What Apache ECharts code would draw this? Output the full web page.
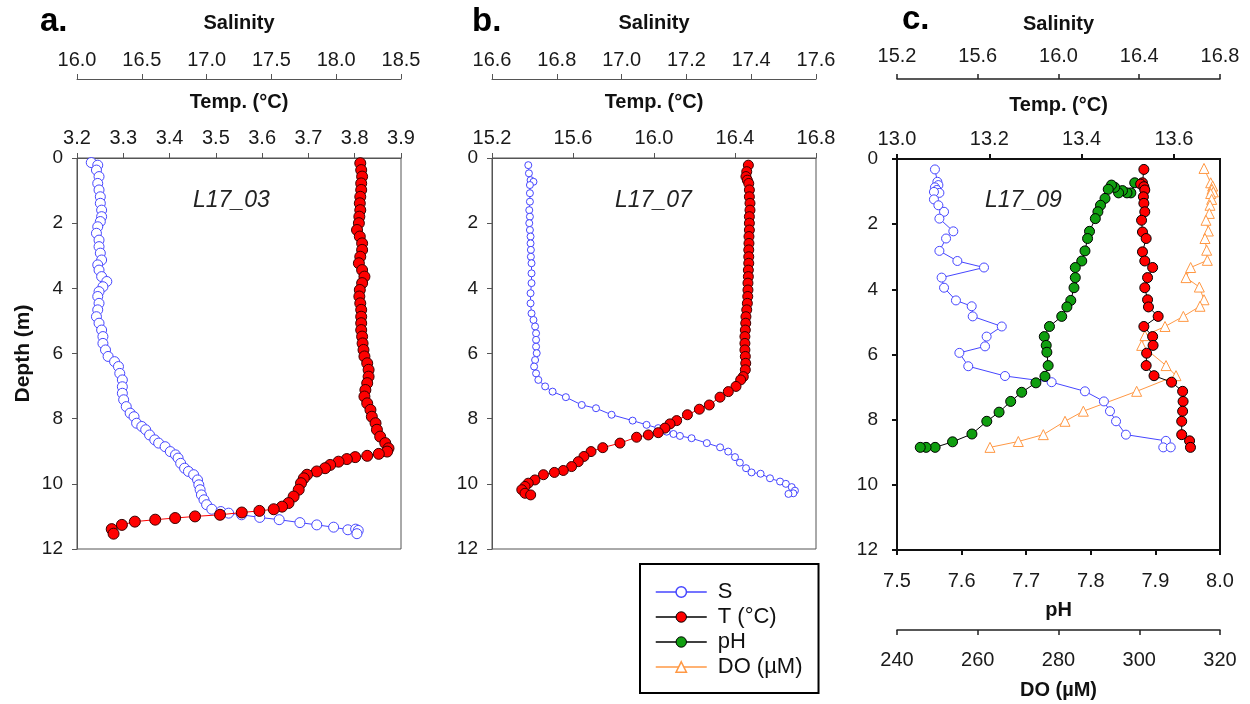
<!DOCTYPE html>
<html>
<head>
<meta charset="utf-8">
<script src="https://cdn.jsdelivr.net/npm/echarts@6/dist/echarts.min.js"></script>
<style>
  html, body { margin: 0; padding: 0; background: #fff; }
  #chart { width: 1250px; height: 704px; }
</style>
</head>
<body>
<div id="chart"></div>
<script>
// ---------- Station L17_03 ----------
const a_S_depth = [0.14,0.22,0.37,0.57,0.78,0.98,1.19,1.39,1.60,1.80,1.95,2.11,2.31,2.52,2.72,2.92,3.13,3.28,3.44,3.64,3.79,3.95,4.10,4.25,4.46,4.66,4.87,5.07,5.28,5.48,5.69,5.89,6.09,6.25,6.40,6.61,6.81,7.02,7.22,7.42,7.63,7.83,7.94,8.14,8.24,8.34,8.50,8.65,8.75,8.86,9.01,9.11,9.21,9.37,9.52,9.62,9.72,9.88,10.03,10.18,10.34,10.49,10.64,10.78,10.85,10.90,10.95,11.03,11.10,11.19,11.26,11.33,11.41,11.39,11.43,11.53];
const a_S = [16.11,16.16,16.15,16.17,16.16,16.17,16.18,16.18,16.19,16.19,16.18,16.16,16.15,16.17,16.17,16.18,16.19,16.16,16.17,16.19,16.23,16.20,16.17,16.16,16.17,16.16,16.15,16.17,16.19,16.20,16.20,16.22,16.24,16.29,16.32,16.33,16.35,16.35,16.35,16.36,16.38,16.41,16.44,16.46,16.50,16.53,16.56,16.60,16.63,16.68,16.72,16.76,16.78,16.80,16.83,16.86,16.90,16.93,16.94,16.95,16.96,16.98,17.00,17.04,17.11,17.17,17.27,17.41,17.56,17.72,17.85,17.98,18.09,18.15,18.17,18.16];
const a_T_depth = [0.16,0.37,0.57,0.78,0.98,1.19,1.39,1.60,1.80,2.00,2.21,2.41,2.62,2.82,3.03,3.23,3.44,3.64,3.84,4.05,4.25,4.46,4.66,4.87,5.07,5.28,5.48,5.69,5.89,6.09,6.30,6.50,6.71,6.91,7.12,7.32,7.53,7.73,7.94,8.14,8.34,8.55,8.75,8.91,9.01,9.08,9.14,9.18,9.24,9.32,9.42,9.52,9.62,9.72,9.83,9.98,10.18,10.39,10.59,10.70,10.78,10.83,10.88,10.95,11.00,11.05,11.10,11.16,11.26,11.39,11.53];
const a_T = [3.812,3.814,3.816,3.814,3.814,3.812,3.811,3.812,3.810,3.809,3.805,3.811,3.816,3.816,3.812,3.809,3.816,3.821,3.816,3.811,3.810,3.812,3.814,3.814,3.814,3.814,3.816,3.817,3.819,3.821,3.827,3.830,3.830,3.827,3.823,3.821,3.827,3.834,3.837,3.845,3.848,3.855,3.866,3.873,3.870,3.852,3.827,3.801,3.783,3.765,3.747,3.736,3.718,3.697,3.690,3.684,3.679,3.668,3.657,3.643,3.625,3.594,3.556,3.509,3.455,3.412,3.369,3.325,3.297,3.275,3.279];

// ---------- Station L17_07 ----------
const b_S_depth = [0.22,0.47,0.68,0.73,0.83,1.08,1.34,1.60,1.80,2.00,2.21,2.41,2.62,2.82,3.03,3.23,3.54,3.84,4.15,4.46,4.77,4.97,5.17,5.38,5.58,5.79,5.99,6.20,6.40,6.61,6.81,7.01,7.17,7.34,7.58,7.68,7.88,8.06,8.19,8.29,8.40,8.47,8.53,8.60,8.75,8.88,9.01,9.18,9.35,9.52,9.65,9.69,9.83,9.93,10.00,10.10,10.21,10.29,10.31];
const b_S = [16.712,16.714,16.719,16.728,16.717,16.717,16.717,16.715,16.717,16.715,16.717,16.719,16.719,16.720,16.720,16.722,16.722,16.722,16.719,16.719,16.722,16.728,16.733,16.736,16.736,16.736,16.738,16.733,16.730,16.736,16.743,16.764,16.787,16.828,16.877,16.921,16.969,17.034,17.077,17.113,17.139,17.160,17.180,17.216,17.263,17.304,17.329,17.350,17.365,17.384,17.401,17.429,17.458,17.489,17.507,17.525,17.535,17.530,17.515];
const b_T_depth = [0.22,0.42,0.57,0.68,0.78,0.98,1.19,1.39,1.60,1.80,2.00,2.21,2.41,2.62,2.82,3.03,3.23,3.44,3.64,3.84,4.05,4.25,4.46,4.66,4.87,5.07,5.28,5.48,5.69,5.89,6.09,6.30,6.50,6.71,6.81,7.01,7.17,7.34,7.58,7.71,7.88,8.06,8.16,8.29,8.43,8.50,8.57,8.75,8.89,9.01,9.16,9.32,9.47,9.59,9.65,9.72,9.88,9.98,10.08,10.18,10.29,10.34];
const b_T = [16.466,16.458,16.454,16.461,16.468,16.471,16.471,16.474,16.474,16.471,16.471,16.471,16.469,16.469,16.468,16.468,16.468,16.466,16.466,16.464,16.464,16.463,16.461,16.458,16.454,16.453,16.451,16.449,16.449,16.449,16.451,16.453,16.451,16.441,16.428,16.405,16.367,16.326,16.273,16.224,16.165,16.112,16.079,16.054,16.021,15.972,15.914,15.832,15.747,15.689,15.654,15.626,15.593,15.552,15.508,15.454,15.412,15.379,15.363,15.347,15.363,15.391];

// ---------- Station L17_09 ----------
const c_S_depth = [0.32,0.70,0.80,0.87,0.95,1.04,1.01,1.24,1.42,1.62,1.83,2.22,2.44,2.82,3.13,3.33,3.64,3.95,4.34,4.52,4.83,5.14,5.45,5.75,5.95,6.36,6.66,6.85,7.13,7.44,7.74,8.05,8.46,8.65,8.85,8.85];
const c_S = [15.388,15.400,15.405,15.388,15.397,15.410,15.383,15.383,15.405,15.433,15.410,15.479,15.443,15.410,15.499,15.631,15.421,15.433,15.492,15.570,15.575,15.719,15.644,15.636,15.509,15.553,15.735,15.966,16.131,16.225,16.255,16.285,16.334,16.532,16.519,16.556];
const c_T_depth = [0.32,0.73,0.77,0.85,0.95,1.16,1.36,1.62,1.88,2.24,2.44,2.85,3.13,3.33,3.64,3.95,4.32,4.54,4.83,5.14,5.45,5.72,5.96,6.34,6.65,6.85,7.13,7.44,7.74,8.05,8.46,8.65,8.85];
const c_T = [13.535,13.532,13.528,13.535,13.537,13.534,13.535,13.537,13.530,13.532,13.540,13.532,13.537,13.554,13.543,13.537,13.543,13.545,13.566,13.535,13.554,13.555,13.541,13.540,13.557,13.595,13.619,13.620,13.619,13.617,13.617,13.634,13.636];
const c_pH_depth = [0.73,1.04,1.04,0.97,1.04,0.87,0.80,0.93,1.21,1.42,1.62,1.83,2.22,2.44,2.82,3.13,3.33,3.64,3.95,4.34,4.54,4.83,5.14,5.45,5.72,5.93,6.34,6.67,6.87,7.16,7.44,7.77,8.05,8.44,8.68,8.85,8.85,8.85];
const c_pH = [7.868,7.862,7.856,7.849,7.843,7.837,7.832,7.827,7.822,7.815,7.811,7.807,7.798,7.795,7.791,7.786,7.776,7.776,7.774,7.769,7.763,7.755,7.736,7.728,7.731,7.732,7.734,7.729,7.715,7.693,7.676,7.658,7.639,7.616,7.586,7.559,7.545,7.536];
const c_DO_depth = [0.29,0.73,0.83,0.93,1.01,1.06,1.24,1.42,1.67,1.88,2.21,2.44,2.80,3.11,3.33,3.64,3.93,4.32,4.52,4.83,5.14,5.42,5.72,6.34,6.65,7.13,7.74,8.05,8.46,8.67,8.85];
const c_DO = [316.04,317.69,318.19,318.02,318.35,317.69,317.94,317.52,317.36,316.53,317.11,316.28,316.70,316.86,312.73,311.58,314.88,316.04,315.05,310.92,306.38,301.42,300.60,306.63,309.10,299.36,286.15,281.61,276.24,270.05,263.03];

// Labels
const panelLetters = ['a.', 'b.', 'c.'];
const stations = ['L17_03', 'L17_07', 'L17_09'];
const seriesNames = ['S', 'T (°C)', 'pH', 'DO (µM)'];

const FONT = "'Liberation Sans', Arial, Helvetica, sans-serif";
const BLUE = '#4646ff', RED = '#ff0000', GREEN = '#109f10', ORANGE = '#ff9844';
const TXT = '#1a1a1a';

function xAxis(o) {
  return {
    type: 'value', gridIndex: o.grid, position: o.pos, offset: o.offset || 0,
    min: o.min, max: o.max, interval: o.step,
    name: o.name, nameLocation: 'middle', nameGap: o.nameGap,
    nameTextStyle: { fontFamily: FONT, fontSize: 20, fontWeight: 'bold', color: '#111' },
    axisLine: { show: true, onZero: false, lineStyle: { color: o.color || '#555', width: o.lw || 1 } },
    axisTick: { show: true, inside: false, length: 5, lineStyle: { color: o.color || '#555', width: o.lw || 1 } },
    axisLabel: {
      margin: o.margin, fontFamily: FONT, fontSize: 20, color: TXT,
      showMaxLabel: !o.hideMax,
      formatter: v => v.toFixed(o.dec)
    },
    splitLine: { show: false }
  };
}

function yAxis(o) {
  return {
    type: 'value', gridIndex: o.grid, position: 'left', inverse: true,
    min: 0, max: 12, interval: 2,
    name: o.name || '', nameLocation: 'middle', nameRotate: 90, nameGap: 43,
    nameTextStyle: { fontFamily: FONT, fontSize: 21, fontWeight: 'bold', color: '#111' },
    axisLine: { show: true, onZero: false, lineStyle: { color: o.color || '#555', width: o.lw || 1 } },
    axisTick: { show: true, inside: false, length: 5, lineStyle: { color: o.color || '#555', width: o.lw || 1 } },
    axisLabel: { margin: o.margin, fontFamily: FONT, fontSize: 19, color: TXT },
    splitLine: { show: false }
  };
}

function profile(name, xi, yi, vals, depths, st) {
  return {
    type: 'line', name: name, xAxisIndex: xi, yAxisIndex: yi,
    data: vals.map((v, i) => [v, depths[i]]),
    symbol: st.symbol, symbolSize: st.size, showSymbol: true,
    itemStyle: { color: st.fill, borderColor: st.border, borderWidth: 1 },
    lineStyle: { color: st.line, width: 1 },
    emphasis: { disabled: true }, silent: true, animation: false, z: st.z || 2
  };
}

const gridBox = { show: true, borderColor: '#555', borderWidth: 1, backgroundColor: 'transparent', outerBoundsMode: 'none', containLabel: false };

const option = {
  animation: false,
  backgroundColor: '#fff',
  title: [
    { text: panelLetters[0], left: 40, top: 5 },
    { text: panelLetters[1], left: 472, top: 5 },
    { text: panelLetters[2], left: 902, top: 3 }
  ].map(t => Object.assign(t, { padding: 0, textStyle: { fontFamily: FONT, fontSize: 33, fontWeight: 'bold', color: '#000' } }))
  .concat([
    { text: stations[0], left: 193, top: 189 },
    { text: stations[1], left: 615, top: 189 },
    { text: stations[2], left: 985, top: 189 }
  ].map(t => Object.assign(t, { padding: 0, textStyle: { fontFamily: FONT, fontSize: 23, fontStyle: 'italic', fontWeight: 'normal', color: '#222' } }))),
  grid: [
    Object.assign({ left: 77, top: 158, width: 324, height: 391 }, gridBox),
    Object.assign({ left: 492, top: 158, width: 324, height: 391 }, gridBox),
    Object.assign({ left: 897, top: 159, width: 323, height: 391 }, gridBox, { borderColor: '#111', borderWidth: 2 })
  ],
  xAxis: [
    xAxis({ grid: 0, pos: 'top', min: 3.2, max: 3.9, step: 0.1, name: 'Temp. (°C)', nameGap: 46, margin: 10, dec: 1 }),
    xAxis({ grid: 0, pos: 'top', offset: 79, min: 16.0, max: 18.5, step: 0.5, name: 'Salinity', nameGap: 46, margin: 9, dec: 1 }),
    xAxis({ grid: 1, pos: 'top', min: 15.2, max: 16.8, step: 0.4, name: 'Temp. (°C)', nameGap: 46, margin: 10, dec: 1 }),
    xAxis({ grid: 1, pos: 'top', offset: 79, min: 16.6, max: 17.6, step: 0.2, name: 'Salinity', nameGap: 46, margin: 9, dec: 1 }),
    xAxis({ grid: 2, pos: 'top', min: 13.0, max: 13.7, step: 0.2, name: 'Temp. (°C)', nameGap: 44, margin: 10, dec: 1, hideMax: true, color: '#111', lw: 2 }),
    xAxis({ grid: 2, pos: 'top', offset: 80, min: 15.2, max: 16.8, step: 0.4, name: 'Salinity', nameGap: 45, margin: 13, dec: 1, color: '#222', lw: 1.5 }),
    xAxis({ grid: 2, pos: 'bottom', min: 7.5, max: 8.0, step: 0.1, name: 'pH', nameGap: 50, margin: 21, dec: 1, color: '#111', lw: 2 }),
    xAxis({ grid: 2, pos: 'bottom', offset: 80, min: 240, max: 320, step: 20, name: 'DO (µM)', nameGap: 50, margin: 20, dec: 0, color: '#222', lw: 1.5 })
  ],
  yAxis: [
    yAxis({ grid: 0, name: 'Depth (m)', margin: 14 }),
    yAxis({ grid: 1, margin: 14 }),
    yAxis({ grid: 2, margin: 19, color: '#111', lw: 2 })
  ],
  legend: {
    left: 640, top: 564, orient: 'vertical',
    padding: [17, 16, 15, 15], itemGap: 3, itemWidth: 51, itemHeight: 13,
    borderColor: '#000', borderWidth: 2, backgroundColor: '#fff',
    selectedMode: false,
    textStyle: { fontFamily: FONT, fontSize: 22, color: '#111', padding: [0, 0, 0, 6] },
    data: [
      { name: seriesNames[0], itemStyle: { color: '#fff', borderColor: BLUE, borderWidth: 1.5 }, lineStyle: { color: BLUE, width: 1.5 } },
      { name: seriesNames[1], itemStyle: { color: RED, borderColor: '#000', borderWidth: 1 }, lineStyle: { color: '#000', width: 1.5 } },
      { name: seriesNames[2], itemStyle: { color: GREEN, borderColor: '#000', borderWidth: 1 }, lineStyle: { color: '#000', width: 1.5 } },
      { name: seriesNames[3], itemStyle: { color: '#fff', borderColor: ORANGE, borderWidth: 1.5 }, lineStyle: { color: ORANGE, width: 1.5 } }
    ]
  },
  series: [
    profile(seriesNames[0], 1, 0, a_S, a_S_depth, { symbol: 'circle', size: 10, fill: '#fff', border: BLUE, line: BLUE }),
    profile(seriesNames[1], 0, 0, a_T, a_T_depth, { symbol: 'circle', size: 11, fill: RED, border: '#3a0000', line: RED, z: 3 }),
    profile(seriesNames[0], 3, 1, b_S, b_S_depth, { symbol: 'circle', size: 7, fill: '#fff', border: BLUE, line: BLUE }),
    profile(seriesNames[1], 2, 1, b_T, b_T_depth, { symbol: 'circle', size: 10, fill: RED, border: '#3a0000', line: RED, z: 3 }),
    profile(seriesNames[0], 5, 2, c_S, c_S_depth, { symbol: 'circle', size: 9, fill: '#fff', border: BLUE, line: BLUE }),
    profile(seriesNames[3], 7, 2, c_DO, c_DO_depth, { symbol: 'triangle', size: 10, fill: '#fff', border: ORANGE, line: ORANGE }),
    profile(seriesNames[2], 6, 2, c_pH, c_pH_depth, { symbol: 'circle', size: 10, fill: GREEN, border: '#000', line: '#000', z: 3 }),
    profile(seriesNames[1], 4, 2, c_T, c_T_depth, { symbol: 'circle', size: 10, fill: RED, border: '#000', line: '#000', z: 4 })
  ]
};

const chart = echarts.init(document.getElementById('chart'), null, { renderer: 'canvas' });
chart.setOption(option);
</script>
</body>
</html>
